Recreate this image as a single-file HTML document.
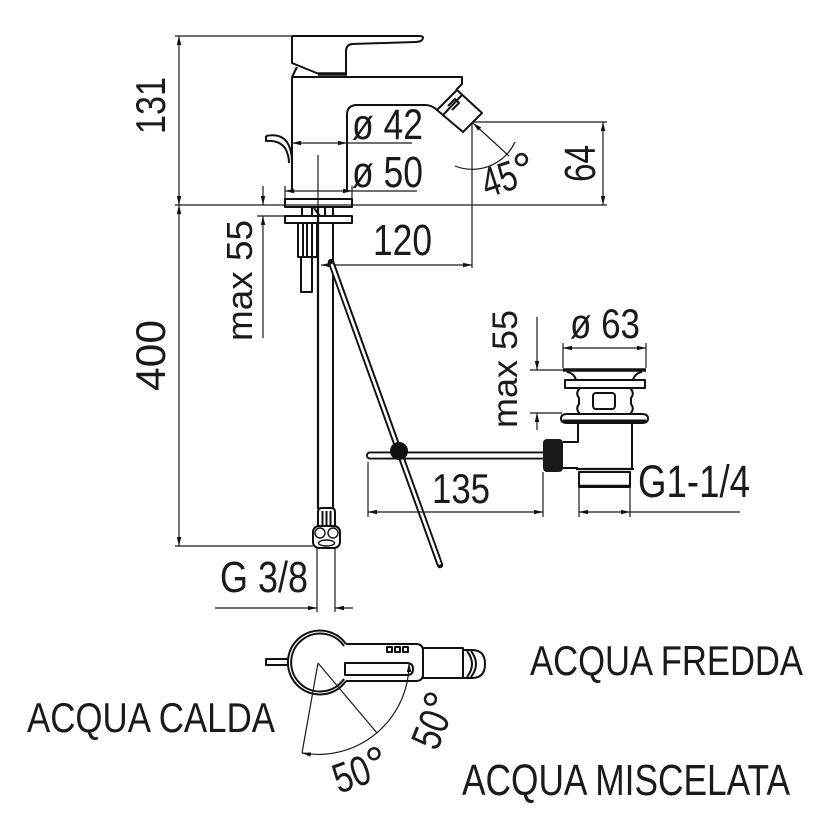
<!DOCTYPE html>
<html><head><meta charset="utf-8"><style>
html,body{margin:0;padding:0;background:#fff;}
svg{display:block}
text{font-family:"Liberation Sans",Arial,sans-serif;fill:#1a1a1a}
.d{stroke:#1a1a1a;stroke-width:1.2;fill:none}
.o{stroke:#111;stroke-width:2;fill:none;stroke-linejoin:round}
.w{stroke:#111;stroke-width:2;fill:#fff;stroke-linejoin:round}
</style></head><body>
<svg width="839" height="823" viewBox="0 0 839 823" xmlns="http://www.w3.org/2000/svg">
<defs>
<marker id="ar" viewBox="0 0 10 5" refX="10" refY="2.5" markerWidth="9" markerHeight="4.5" markerUnits="userSpaceOnUse" orient="auto-start-reverse"><path d="M0,0 L10,2.5 L0,5 z" fill="#111"/></marker>
</defs>

<!-- ===== left dimensions 131 / 400 ===== -->
<line class="d" x1="175" y1="36" x2="292" y2="36"/>
<line class="d" x1="175" y1="205" x2="607" y2="205"/>
<line class="d" x1="175" y1="546" x2="313" y2="546"/>
<line class="d" x1="179" y1="120" x2="179" y2="36" marker-end="url(#ar)"/>
<line class="d" x1="179" y1="120" x2="179" y2="205" marker-end="url(#ar)"/>
<line class="d" x1="179" y1="380" x2="179" y2="205" marker-end="url(#ar)"/>
<line class="d" x1="179" y1="380" x2="179" y2="546" marker-end="url(#ar)"/>
<text transform="translate(165,134) rotate(-90)" font-size="42" textLength="57" lengthAdjust="spacingAndGlyphs">131</text>
<text transform="translate(165,391) rotate(-90)" font-size="42" textLength="71" lengthAdjust="spacingAndGlyphs">400</text>

<!-- max 55 left -->
<line class="d" x1="263" y1="186" x2="263" y2="205" marker-end="url(#ar)"/>
<line class="d" x1="263" y1="338" x2="263" y2="216" marker-end="url(#ar)"/>
<line class="d" x1="257" y1="216" x2="287" y2="216"/>
<text transform="translate(252,341) rotate(-90)" font-size="36" textLength="121" lengthAdjust="spacingAndGlyphs">max 55</text>

<!-- ===== faucet ===== -->
<path class="o" stroke-width="2.4" d="M292,36 L419,36 Q425,36 422,40 Q420,42 415,42 L352,44 Q346,45 346,51 L346,74"/>
<path class="o" d="M292,36 L292,63 L319,74"/>
<line x1="318" y1="74" x2="347" y2="74" stroke="#111" stroke-width="3.5"/>
<path class="o" stroke-width="1.5" d="M297,67 L292,77"/>
<path class="o" d="M292,77 L462,77 L462,84 L456,90"/>
<path class="o" d="M292,77 L292,191"/>
<path class="o" d="M437,110 Q432,105 425,105 L357,105 Q347,105 347,115 L347,191"/>
<path class="w" d="M437,110 L457,90 L482,113 L463,132 Z"/>
<path class="o" stroke-width="1.3" d="M443,115 L462,95 M448,106 L455,99 L459,103 L452,110"/>
<path class="o" stroke-width="1.6" d="M266,136 Q280,133 287,142 Q292,150 292,162 M266,136 L266,141 Q279,140 285,148 Q289,155 289,163"/>
<line class="d" x1="318" y1="155" x2="318" y2="207"/>
<line class="d" x1="292" y1="143" x2="347" y2="143" marker-start="url(#ar)" marker-end="url(#ar)"/>
<line class="d" x1="347" y1="143" x2="412" y2="143"/>
<text x="352" y="139" font-size="43" textLength="71" lengthAdjust="spacingAndGlyphs">ø 42</text>
<line class="d" x1="285" y1="186" x2="285" y2="199"/>
<line class="d" x1="352" y1="186" x2="352" y2="199"/>
<line class="d" x1="285" y1="191" x2="352" y2="191" marker-start="url(#ar)" marker-end="url(#ar)"/>
<line class="d" x1="352" y1="191" x2="417" y2="191"/>
<text x="352" y="187" font-size="44" textLength="71" lengthAdjust="spacingAndGlyphs">ø 50</text>
<rect class="o" x="285" y="199" width="67" height="8"/>
<rect class="o" x="285" y="216" width="67" height="7"/>
<path class="o" stroke-width="1.4" d="M302,207 L302,216 M312,207 L312,216 M325,207 L325,216 M333,207 L333,216 M314,208 L320,216"/>
<rect class="o" stroke-width="1.6" x="298" y="223" width="19" height="34"/>
<path class="o" stroke-width="1.2" d="M303,223 L303,257 M307,223 L307,257 M312,223 L312,257"/>
<rect class="o" stroke-width="1.6" x="301" y="257" width="11" height="35"/>
<line x1="318" y1="207" x2="318" y2="509" stroke="#111" stroke-width="2.2"/>
<line x1="333" y1="223" x2="333" y2="509" stroke="#111" stroke-width="2"/>
<path class="w" d="M318,527 L318,512 Q318,508 322,508 L331,508 Q335,508 335,512 L335,527"/>
<path class="o" stroke-width="1.2" d="M322.5,511 L322.5,525 M326.5,511 L326.5,525 M330.5,511 L330.5,525"/>
<rect class="w" x="313" y="526" width="27" height="22" rx="6"/>
<circle cx="320" cy="533" r="5" fill="none" stroke="#111" stroke-width="1.4"/>
<circle cx="333" cy="533" r="5" fill="none" stroke="#111" stroke-width="1.4"/>
<ellipse cx="326.5" cy="543" rx="8" ry="3" fill="none" stroke="#111" stroke-width="1.4"/>
<line class="d" x1="317" y1="548" x2="317" y2="612"/>
<line class="d" x1="335" y1="548" x2="335" y2="612"/>
<line class="d" x1="215" y1="608" x2="317" y2="608" marker-end="url(#ar)"/>
<line class="d" x1="353" y1="608" x2="335" y2="608" marker-end="url(#ar)"/>
<text x="220" y="592" font-size="44" textLength="88" lengthAdjust="spacingAndGlyphs">G 3/8</text>

<!-- ===== 120 / 64 / 45 ===== -->
<line class="d" x1="472" y1="122" x2="472" y2="268"/>
<line class="d" x1="472" y1="122" x2="607" y2="122"/>
<line class="d" x1="603" y1="122" x2="603" y2="205" marker-start="url(#ar)" marker-end="url(#ar)"/>
<text transform="translate(595,182) rotate(-90)" font-size="44" textLength="37" lengthAdjust="spacingAndGlyphs">64</text>
<line class="d" x1="321" y1="265" x2="472" y2="265" marker-start="url(#ar)" marker-end="url(#ar)"/>
<text x="373" y="255" font-size="44" textLength="59" lengthAdjust="spacingAndGlyphs">120</text>
<line class="d" x1="509" y1="156" x2="473" y2="123" marker-end="url(#ar)"/>
<path class="d" d="M455,166 A47,47 0 0 0 515,142"/>
<g transform="translate(487,198) rotate(-18)">
<text x="0" y="0" font-size="42" textLength="35" lengthAdjust="spacingAndGlyphs">45</text>
<text x="35" y="1" font-size="48">°</text>
</g>

<!-- ===== pop-up rods ===== -->
<line x1="331" y1="262" x2="440" y2="565" stroke="#111" stroke-width="6.5" stroke-linecap="round"/>
<line x1="332" y1="265" x2="439.5" y2="563.5" stroke="#fff" stroke-width="2.6" stroke-linecap="round"/>
<line x1="370" y1="455.5" x2="545" y2="455.5" stroke="#111" stroke-width="8" stroke-linecap="round"/>
<line x1="370" y1="455.5" x2="545" y2="455.5" stroke="#fff" stroke-width="4.2" stroke-linecap="round"/>
<circle cx="399" cy="451" r="9" fill="#111"/>
<rect x="543" y="439" width="20" height="33" rx="4" fill="#1a1a1a"/>
<line class="d" x1="368" y1="462" x2="368" y2="517"/>
<line class="d" x1="543" y1="472" x2="543" y2="517"/>
<line class="d" x1="368" y1="512" x2="543" y2="512" marker-start="url(#ar)" marker-end="url(#ar)"/>
<text x="432" y="503" font-size="42" textLength="58" lengthAdjust="spacingAndGlyphs">135</text>

<!-- ===== drain ===== -->
<line class="d" x1="563" y1="343" x2="563" y2="368"/>
<line class="d" x1="646" y1="343" x2="646" y2="368"/>
<line class="d" x1="563" y1="348" x2="646" y2="348" marker-start="url(#ar)" marker-end="url(#ar)"/>
<text x="570" y="338" font-size="42" textLength="70" lengthAdjust="spacingAndGlyphs">ø 63</text>
<line x1="563" y1="370" x2="646" y2="370" stroke="#111" stroke-width="3.5"/>
<path class="o" stroke-width="1.6" d="M567,372 Q574,373 576,380 M642,372 Q635,373 633,380"/>
<rect class="o" stroke-width="1.8" x="565" y="380" width="80" height="8"/>
<path class="o" stroke-width="1.8" d="M580,388 Q575,393 579,398 L579,404 Q575,409 580,414 M630,388 Q635,393 631,398 L631,404 Q635,409 630,414"/>
<rect class="o" stroke-width="1.8" x="593" y="393" width="22" height="16" rx="3"/>
<path class="o" stroke-width="1.6" d="M567,414 L642,414 Q648,414 648,418.5 Q648,423 642,423 L567,423 Q561,423 561,418.5 Q561,414 567,414 Z"/>
<line x1="563" y1="421" x2="646" y2="421" stroke="#111" stroke-width="3"/>
<path class="o" d="M578,423 L578,442 L563,442 M563,468 L578,468 M632,423 L632,469"/>
<line x1="576" y1="469" x2="634" y2="469" stroke="#111" stroke-width="2.2"/>
<rect class="o" stroke-width="1.8" x="579" y="472" width="51" height="15"/>
<line x1="579" y1="486" x2="630" y2="486" stroke="#111" stroke-width="2.5"/>
<line class="d" x1="537" y1="317" x2="537" y2="370" marker-end="url(#ar)"/>
<line class="d" x1="537" y1="430" x2="537" y2="413" marker-end="url(#ar)"/>
<line class="d" x1="530" y1="370" x2="563" y2="370"/>
<line class="d" x1="530" y1="413" x2="562" y2="413"/>
<text transform="translate(517,428) rotate(-90)" font-size="35" textLength="118" lengthAdjust="spacingAndGlyphs">max 55</text>
<line class="d" x1="579" y1="488" x2="579" y2="517"/>
<line class="d" x1="630" y1="488" x2="630" y2="517"/>
<line class="d" x1="579" y1="512" x2="630" y2="512" marker-start="url(#ar)" marker-end="url(#ar)"/>
<line class="d" x1="630" y1="512" x2="740" y2="512"/>
<text x="638" y="497" font-size="45" textLength="112" lengthAdjust="spacingAndGlyphs">G1-1/4</text>

<!-- ===== top view ===== -->
<rect class="o" stroke-width="1.6" x="266" y="659" width="22" height="6"/>
<path class="w" d="M346,644 A32,32 0 1 0 346,681"/>
<path class="o" stroke-width="1.6" d="M344,646 A29,29 0 1 0 344,679"/>
<path class="w" d="M346,644 L416,644 Q423,644 423,651 L423,674 Q423,681 416,681 L346,681"/>
<rect class="w" x="423" y="648" width="40" height="30"/>
<path class="w" d="M463,650 L472,650 Q485,650 485,664 Q485,678 472,678 L463,678 Z"/>
<path class="o" stroke-width="1.4" d="M467,651 Q477,664 467,677 M471,651 Q481,664 471,677"/>
<path class="o" stroke-width="1.8" d="M345,663 L407,663 Q413,663 413,669 Q413,675 407,675 L345,675 Z"/>
<rect class="o" stroke-width="1.3" x="387" y="647" width="5" height="5"/>
<rect class="o" stroke-width="1.3" x="395" y="647" width="5" height="5"/>
<rect class="o" stroke-width="1.3" x="403" y="647" width="5" height="5"/>
<line class="d" x1="318" y1="663" x2="302" y2="753"/>
<line class="d" x1="318" y1="663" x2="377" y2="733"/>
<path class="d" d="M302,753 A91,91 0 0 0 409,663" marker-start="url(#ar)" marker-end="url(#ar)"/>
<g transform="translate(339,794) rotate(-20)">
<text x="0" y="0" font-size="42" textLength="37" lengthAdjust="spacingAndGlyphs">50</text>
<text x="37" y="1" font-size="48">°</text>
</g>
<g transform="translate(437,752) rotate(-68)">
<text x="0" y="0" font-size="42" textLength="37" lengthAdjust="spacingAndGlyphs">50</text>
<text x="37" y="1" font-size="48">°</text>
</g>

<text x="530" y="675" font-size="42" textLength="273" lengthAdjust="spacingAndGlyphs">ACQUA FREDDA</text>
<text x="27" y="732" font-size="42" textLength="248" lengthAdjust="spacingAndGlyphs">ACQUA CALDA</text>
<text x="462" y="795" font-size="44" textLength="328" lengthAdjust="spacingAndGlyphs">ACQUA MISCELATA</text>
</svg>
</body></html>
